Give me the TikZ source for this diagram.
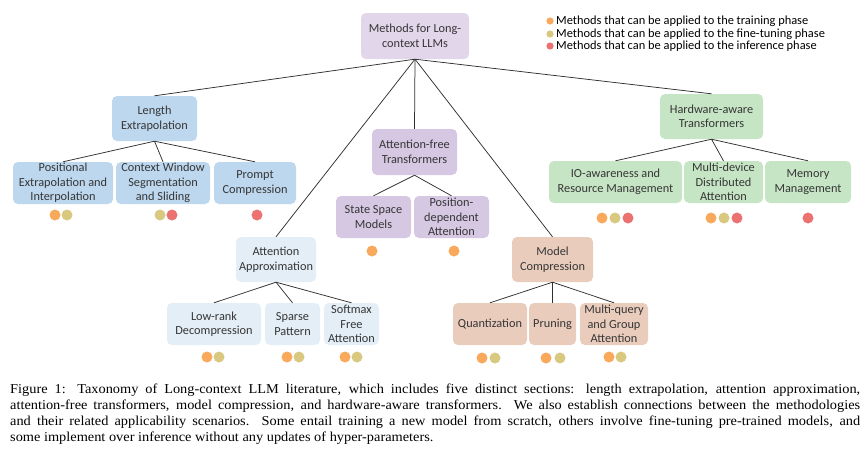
\documentclass[tikz,border=0pt]{standalone}
\usepackage{fontspec}
\setmainfont{Carlito}
\newfontfamily\capfont[FakeStretch=1.055]{Liberation Serif}
\definecolor{cTop}{HTML}{E2D6EA}
\definecolor{cAF}{HTML}{D6C7E3}
\definecolor{cLE}{HTML}{BDD7EE}
\definecolor{cAA}{HTML}{E3EEF7}
\definecolor{cMC}{HTML}{E9CCBC}
\definecolor{cHA}{HTML}{C6E5C5}
\definecolor{dOr}{HTML}{F9A95B}
\definecolor{dKh}{HTML}{D9C87F}
\definecolor{dRd}{HTML}{EC7272}
\definecolor{txt}{HTML}{363636}
\definecolor{ln}{HTML}{303030}
\tikzset{
  box/.style={draw=none, rounded corners=5pt, align=center, inner sep=1pt, text=txt,
    font=\fontsize{12.3}{14.5}\selectfont},
  conn/.style={draw=ln, line width=0.75pt},
  legtext/.style={anchor=west, inner sep=0pt, text=black, font=\fontsize{12.4}{12.5}\selectfont}
}
\begin{document}
\begin{tikzpicture}[x=1pt,y=-1pt]
\useasboundingbox (0,0) rectangle (867,450);
% top
\node[box, fill=cTop, minimum width=108pt, minimum height=46pt] (top) at (415,36) {Methods for Long-\\context LLMs};
% length extrapolation
\node[box, fill=cLE, minimum width=85pt, minimum height=45pt] (le) at (154.5,118.5) {Length\\Extrapolation};
\node[box, fill=cLE, minimum width=100pt, minimum height=42pt] (pei) at (63,183) {Positional\\Extrapolation and\\Interpolation};
\node[box, fill=cLE, minimum width=94pt, minimum height=42pt] (cws) at (163,183) {Context Window\\Segmentation\\and Sliding};
\node[box, fill=cLE, minimum width=82pt, minimum height=42pt] (pc) at (255,183) {Prompt\\Compression};
% attention-free
\node[box, fill=cAF, minimum width=85pt, minimum height=46pt] (af) at (414.5,152) {Attention-free\\Transformers};
\node[box, fill=cAF, minimum width=75pt, minimum height=42pt] (ssm) at (373.5,217) {State Space\\Models};
\node[box, fill=cAF, minimum width=75pt, minimum height=42pt] (pda) at (451.5,217) {Position-\\dependent\\Attention};
% attention approximation
\node[box, fill=cAA, minimum width=80pt, minimum height=45pt] (aa) at (276,259.5) {Attention\\Approximation};
\node[box, fill=cAA, minimum width=94pt, minimum height=42pt] (lrd) at (214,324) {Low-rank\\Decompression};
\node[box, fill=cAA, minimum width=55pt, minimum height=42pt] (sp) at (292.5,324) {Sparse\\Pattern};
\node[box, fill=cAA, minimum width=55pt, minimum height=42pt] (sfa) at (351.5,324) {Softmax\\Free\\Attention};
% model compression
\node[box, fill=cMC, minimum width=81pt, minimum height=45pt] (mc) at (552.5,259.5) {Model\\Compression};
\node[box, fill=cMC, minimum width=74pt, minimum height=42pt] (qz) at (490,324) {Quantization};
\node[box, fill=cMC, minimum width=47pt, minimum height=42pt] (pr) at (552.5,324) {Pruning};
\node[box, fill=cMC, minimum width=68pt, minimum height=42pt] (mq) at (614,324) {Multi-query\\and Group\\Attention};
% hardware-aware
\node[box, fill=cHA, minimum width=103pt, minimum height=45pt] (ha) at (711.5,116.5) {Hardware-aware\\Transformers};
\node[box, fill=cHA, minimum width=133pt, minimum height=42pt] (io) at (615.5,182) {IO-awareness and\\Resource Management};
\node[box, fill=cHA, minimum width=79pt, minimum height=42pt] (md) at (723.5,182) {Multi-device\\Distributed\\Attention};
\node[box, fill=cHA, minimum width=86pt, minimum height=42pt] (mm) at (808,182) {Memory\\Management};
% connectors
\foreach \c in {le,af,aa,mc,ha} \draw[conn] (top.south) -- (\c.north);
\foreach \c in {pei,cws,pc} \draw[conn] (le.south) -- (\c.north);
\foreach \c in {ssm,pda} \draw[conn] (af.south) -- (\c.north);
\foreach \c in {lrd,sp,sfa} \draw[conn] (aa.south) -- (\c.north);
\foreach \c in {qz,pr,mq} \draw[conn] (mc.south) -- (\c.north);
\foreach \c in {io,md,mm} \draw[conn] (ha.south) -- (\c.north);
% dots
\fill[dOr] (55,215) circle (5.5pt); \fill[dKh] (67,215) circle (5.5pt);
\fill[dKh] (160,215) circle (5.5pt); \fill[dRd] (172,215) circle (5.5pt);
\fill[dRd] (257,215) circle (5.5pt);
\fill[dOr] (372,251) circle (5.5pt);
\fill[dOr] (454,251) circle (5.5pt);
\fill[dOr] (207,357) circle (5.5pt); \fill[dKh] (219,357) circle (5.5pt);
\fill[dOr] (287,357) circle (5.5pt); \fill[dKh] (299,357) circle (5.5pt);
\fill[dOr] (345,357) circle (5.5pt); \fill[dKh] (357,357) circle (5.5pt);
\fill[dOr] (482,358) circle (5.5pt); \fill[dKh] (495,358) circle (5.5pt);
\fill[dOr] (546,358) circle (5.5pt); \fill[dKh] (560,358) circle (5.5pt);
\fill[dOr] (609,357) circle (5.5pt); \fill[dKh] (621,357) circle (5.5pt);
\fill[dOr] (602,218) circle (5.5pt); \fill[dKh] (615,218) circle (5.5pt); \fill[dRd] (628,218) circle (5.5pt);
\fill[dOr] (711,218) circle (5.5pt); \fill[dKh] (724,218) circle (5.5pt); \fill[dRd] (737,218) circle (5.5pt);
\fill[dRd] (808,218) circle (5.5pt);
% legend
\fill[dOr] (550,21) circle (3.6pt);
\fill[dKh] (550,34) circle (3.6pt);
\fill[dRd] (550,46) circle (3.6pt);
\node[legtext] (lg1) at (556,21) {Methods that can be applied to the training phase};
\node[legtext] (lg2) at (556,34) {Methods that can be applied to the fine-tuning phase};
\node[legtext] (lg3) at (556,46) {Methods that can be applied to the inference phase};
% caption
\node[anchor=north west, inner sep=0pt, text width=850pt, align=justify,
  font=\capfont\fontsize{13.6}{16}\selectfont] (cap) at (10,383.3)
  {Figure 1: Taxonomy of Long-context LLM literature, which includes five distinct sections: length extrapolation, attention approximation,\linebreak attention-free transformers, model compression, and hardware-aware transformers. We also establish connections between the methodologies\linebreak and their related applicability scenarios. Some entail training a new model from scratch, others involve fine-tuning pre-trained models, and\linebreak some implement over inference without any updates of hyper-parameters.};
\end{tikzpicture}
\end{document}
